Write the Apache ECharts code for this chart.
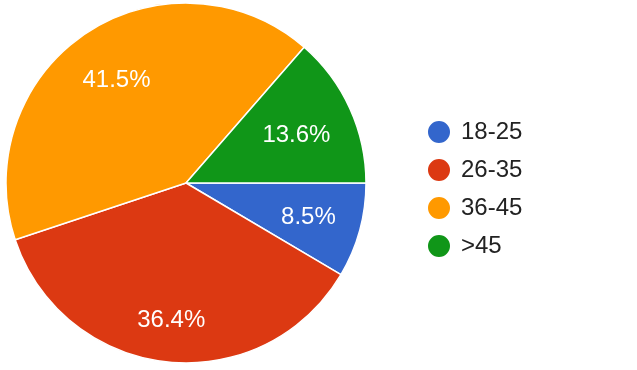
<!DOCTYPE html>
<html>
<head>
<meta charset="utf-8">
<script src="https://cdn.jsdelivr.net/npm/echarts@6/dist/echarts.min.js"></script>
<style>
html,body{margin:0;padding:0;background:#fff;}
#c{width:637px;height:370px;}
</style>
</head>
<body>
<div id="c"></div>
<script>
const categories = ['18-25', '26-35', '36-45', '>45'];
const values = [8.5, 36.4, 41.5, 13.6];
const colors = ['#3366cc', '#dc3912', '#ff9900', '#109618'];
const labelOffsets = [[-2, 0], [-1, 9], [2, 5], [-7, 6]];

const data = categories.map((n, i) => ({ name: n, value: values[i], itemStyle: { color: colors[i] } }));
const labelData = categories.map((n, i) => ({ name: n, value: values[i], label: { offset: labelOffsets[i] } }));

const chart = echarts.init(document.getElementById('c'), null, { renderer: 'canvas' });
chart.setOption({
  animation: false,
  backgroundColor: '#ffffff',
  legend: {
    orient: 'vertical',
    left: 426,
    top: 119,
    padding: 0,
    icon: 'circle',
    itemWidth: 24,
    itemHeight: 24,
    itemGap: 12,
    data: categories,
    textStyle: { fontFamily: 'Liberation Sans, Arial, sans-serif', fontSize: 24, lineHeight: 24, color: '#222222', padding: [0, 0, 0, 5] }
  },
  series: [
    {
      type: 'pie',
      center: [186, 183],
      radius: [0, 180],
      startAngle: 0,
      clockwise: true,
      avoidLabelOverlap: false,
      label: { show: false },
      labelLine: { show: false },
      itemStyle: { borderColor: '#ffffff', borderWidth: 1.5 },
      emphasis: { disabled: true },
      data: data
    },
    {
      type: 'pie',
      silent: true,
      center: [186, 183],
      radius: [72, 180],
      startAngle: 0,
      clockwise: true,
      avoidLabelOverlap: false,
      itemStyle: { color: 'transparent', borderWidth: 0 },
      label: {
        show: true,
        position: 'inside',
        color: '#ffffff',
        fontFamily: 'Liberation Sans, Arial, sans-serif',
        fontSize: 24,
        formatter: p => p.value.toFixed(1) + '%'
      },
      labelLine: { show: false },
      emphasis: { disabled: true },
      data: labelData
    }
  ]
});
</script>
</body>
</html>
